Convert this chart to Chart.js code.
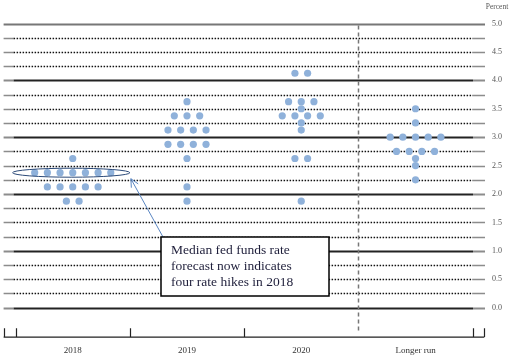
<!DOCTYPE html>
<html>
<head>
<meta charset="utf-8">
<script src="https://cdn.jsdelivr.net/npm/chart.js@4.4.1/dist/chart.umd.min.js"></script>
<style>
  html, body { margin: 0; padding: 0; background: #fff; }
  #wrap { width: 515px; height: 358px; position: relative; }
</style>
</head>
<body>
<div id="wrap"><canvas id="dotPlot"></canvas></div>
<script>
const categories = ["2018", "2019", "2020", "Longer run"];

// each level = a midpoint of a target range, count = number of participants
const levels2018 = [2.625, 2.375, 2.125, 1.875];
const counts2018 = [1, 7, 5, 2];
const levels2019 = [3.625, 3.375, 3.125, 2.875, 2.625, 2.125, 1.875];
const counts2019 = [1, 3, 4, 4, 1, 1, 1];
const levels2020 = [4.125, 3.625, 3.5, 3.375, 3.25, 3.125, 2.625, 1.875];
const counts2020 = [2, 3, 1, 4, 1, 1, 2, 1];
const levelsLong = [3.5, 3.25, 3.0, 2.75, 2.625, 2.5, 2.25];
const countsLong = [1, 1, 5, 4, 1, 1, 1];

const yMin = 0;
const yMax = 5;
const labelStep = 0.5;
const gridStep = 0.25;
const noteLines = ["Median fed funds rate", "forecast now indicates", "four rate hikes in 2018"];
const medianLevel = 2.375;

const DOT_STEP = 0.111;
const SERIF = "'Liberation Serif', 'Times New Roman', serif";

function buildDots(catIndex, levels, counts) {
  const pts = [];
  levels.forEach((lvl, i) => {
    const n = counts[i];
    for (let k = 0; k < n; k++) {
      pts.push({ x: catIndex + (k - (n - 1) / 2) * DOT_STEP, y: lvl });
    }
  });
  return pts;
}

const allDots = [
  ...buildDots(0, levels2018, counts2018),
  ...buildDots(1, levels2019, counts2019),
  ...buildDots(2, levels2020, counts2020),
  ...buildDots(3, levelsLong, countsLong),
];

const decor = {
  id: "decor",
  beforeDatasetsDraw(chart) {
    const { ctx, chartArea: a, scales: { x, y } } = chart;
    const inL = a.left + 10;
    const inR = a.right - 12;
    ctx.save();
    for (let v = yMin; v <= yMax + 1e-9; v += gridStep) {
      const py = Math.round(y.getPixelForValue(v)) + 0.5;
      const isInt = Math.abs(v - Math.round(v)) < 1e-9;
      ctx.setLineDash([]);
      if (v >= yMax - 1e-9) {
        ctx.strokeStyle = "#777";
        ctx.lineWidth = 2;
        ctx.beginPath(); ctx.moveTo(a.left, py); ctx.lineTo(a.right, py); ctx.stroke();
        continue;
      }
      // gray stubs at both ends
      ctx.strokeStyle = "#8c8c8c";
      ctx.lineWidth = isInt ? 2 : 1.5;
      ctx.beginPath();
      ctx.moveTo(a.left, py); ctx.lineTo(inL, py);
      ctx.moveTo(inR, py); ctx.lineTo(a.right, py);
      ctx.stroke();
      if (isInt) {
        ctx.strokeStyle = "#222";
        ctx.lineWidth = 2;
      } else {
        ctx.strokeStyle = "#111";
        ctx.lineWidth = 1.6;
        ctx.setLineDash([1.5, 1.5]);
      }
      ctx.beginPath(); ctx.moveTo(inL, py); ctx.lineTo(inR, py); ctx.stroke();
    }

    // dashed separator before "Longer run"
    const sx = Math.round(x.getPixelForValue(2.5)) + 0.5;
    ctx.strokeStyle = "#777";
    ctx.lineWidth = 1.5;
    ctx.setLineDash([4, 3]);
    ctx.beginPath(); ctx.moveTo(sx, a.top + 2); ctx.lineTo(sx, a.bottom + 25); ctx.stroke();
    ctx.setLineDash([]);

    // bracket axis at the bottom
    const by = a.bottom + 29.5;
    ctx.strokeStyle = "#222";
    ctx.lineWidth = 1.2;
    ctx.beginPath();
    ctx.moveTo(a.left, by); ctx.lineTo(a.right - 1, by);
    const ticks = [a.left, x.getPixelForValue(-0.5), x.getPixelForValue(0.5), x.getPixelForValue(1.5), x.getPixelForValue(3.5), a.right - 1];
    ticks.forEach((tx) => {
      const px = Math.round(tx) + 0.5;
      ctx.moveTo(px, by); ctx.lineTo(px, by - 9);
    });
    ctx.stroke();

    ctx.fillStyle = "#333";
    ctx.font = `9px ${SERIF}`;
    ctx.textAlign = "center";
    ctx.textBaseline = "middle";
    categories.forEach((c, i) => ctx.fillText(c, x.getPixelForValue(i), by + 13));

    ctx.fillStyle = "#555";
    ctx.font = `7.5px ${SERIF}`;
    ctx.fillText("Percent", 497, 7);
    ctx.restore();
  },
  afterDatasetsDraw(chart) {
    const { ctx, scales: { x, y } } = chart;
    ctx.save();
    // ellipse around the median row of 2018
    const l = x.getPixelForValue(-0.5) - 3;
    const r = x.getPixelForValue(0.5);
    const cy = y.getPixelForValue(medianLevel);
    ctx.strokeStyle = "#2c4a78";
    ctx.lineWidth = 1;
    ctx.beginPath();
    ctx.ellipse((l + r) / 2, cy, (r - l) / 2, 4.5, 0, 0, Math.PI * 2);
    ctx.stroke();

    // note box
    const bx = 161, bt = 237, bw = 168, bh = 59;
    // arrow from box to ellipse
    const tipX = r + 1, tipY = cy + 6;
    const fromX = bx + 2, fromY = bt;
    ctx.strokeStyle = "#5a86c2";
    ctx.lineWidth = 1;
    ctx.beginPath(); ctx.moveTo(fromX, fromY); ctx.lineTo(tipX, tipY); ctx.stroke();
    const ang = Math.atan2(tipY - fromY, tipX - fromX);
    ctx.beginPath();
    [-0.45, 0.45].forEach((d) => {
      ctx.moveTo(tipX, tipY);
      ctx.lineTo(tipX - 9 * Math.cos(ang + d), tipY - 9 * Math.sin(ang + d));
    });
    ctx.stroke();

    ctx.fillStyle = "#fff";
    ctx.fillRect(bx, bt, bw, bh);
    ctx.strokeStyle = "#000";
    ctx.lineWidth = 1.5;
    ctx.strokeRect(bx, bt, bw, bh);

    ctx.fillStyle = "#1e1e3a";
    ctx.font = `13.5px ${SERIF}`;
    ctx.textAlign = "left";
    ctx.textBaseline = "alphabetic";
    noteLines.forEach((t, i) => ctx.fillText(t, bx + 10, bt + 17 + i * 15.9));
    ctx.restore();
  },
};

new Chart(document.getElementById("dotPlot"), {
  type: "scatter",
  data: {
    datasets: [
      {
        data: allDots,
        backgroundColor: "#8fb1da",
        borderWidth: 0,
        pointRadius: 3.6,
        pointHoverRadius: 3.6,
      },
    ],
  },
  options: {
    responsive: true,
    maintainAspectRatio: false,
    animation: false,
    layout: { padding: { left: 3, right: 0, top: 23.5, bottom: 50.3 } },
    plugins: { legend: { display: false }, tooltip: { enabled: false } },
    scales: {
      x: { type: "linear", min: -0.605, max: 3.608, display: false },
      y: {
        position: "right",
        min: yMin,
        max: yMax,
        afterFit: (s) => { s.width = 30; },
        grid: { display: false, drawTicks: false },
        border: { display: false },
        ticks: {
          stepSize: labelStep,
          padding: 7,
          color: "#555",
          font: { family: SERIF, size: 8 },
          callback: (v) => Number(v).toFixed(1),
        },
      },
    },
  },
  plugins: [decor],
});
</script>
</body>
</html>
